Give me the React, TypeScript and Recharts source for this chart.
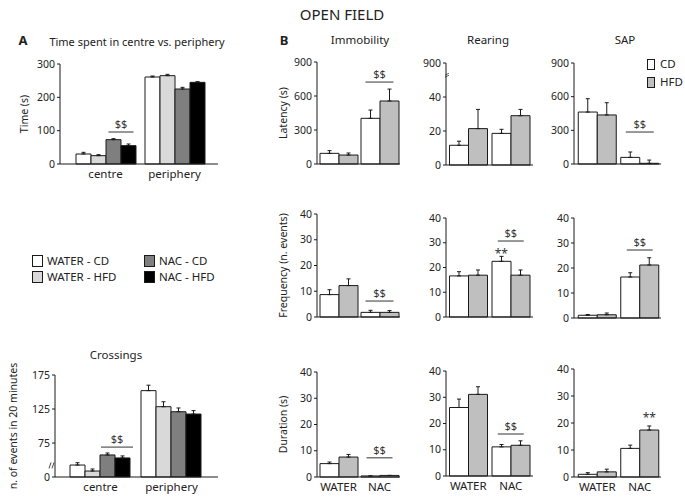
import React from "react";
import { BarChart, Bar, XAxis, YAxis, ErrorBar, ReferenceDot, ReferenceLine, ReferenceArea } from "recharts";

const FONT = '"Noto Sans", "Open Sans", sans-serif';
const INK = "#1a1a1a";

// ---- panel A: time spent in centre vs periphery ----
const zones = ["centre", "periphery"];
const timeWaterCD = [30, 261];
const timeWaterCDErr = [5, 3];
const timeWaterHFD = [25, 265];
const timeWaterHFDErr = [3, 4];
const timeNacCD = [73, 225];
const timeNacCDErr = [3, 5];
const timeNacHFD = [55, 245];
const timeNacHFDErr = [5, 2];

// ---- panel A: crossings (axis is broken, bottom tick shown as 0) ----
const crossWaterCD = [42.6, 152];
const crossWaterCDErr = [3.4, 8];
const crossWaterHFD = [33.8, 128.4];
const crossWaterHFDErr = [3, 7.3];
const crossNacCD = [57.4, 121];
const crossNacCDErr = [2.9, 5.5];
const crossNacHFD = [53, 117.6];
const crossNacHFDErr = [3, 5];

// ---- panel B ----
const treatments = ["WATER", "NAC"];

const immLatCD = [94, 403];
const immLatCDErr = [24, 73];
const immLatHFD = [79, 556];
const immLatHFDErr = [18, 105];
const rearLatCD = [11.6, 18.6];
const rearLatCDErr = [2.4, 2.4];
const rearLatHFD = [21.4, 29];
const rearLatHFDErr = [11.3, 3.7];
const sapLatCD = [463, 59];
const sapLatCDErr = [119, 48];
const sapLatHFD = [437, 6];
const sapLatHFDErr = [109, 29];

const immFreqCD = [8.7, 1.8];
const immFreqCDErr = [1.9, 0.8];
const immFreqHFD = [12.2, 1.8];
const immFreqHFDErr = [2.6, 0.7];
const rearFreqCD = [16.6, 22.5];
const rearFreqCDErr = [1.7, 2];
const rearFreqHFD = [16.9, 16.9];
const rearFreqHFDErr = [2.1, 2.1];
const sapFreqCD = [1.1, 16.4];
const sapFreqCDErr = [0.3, 1.7];
const sapFreqHFD = [1.3, 21.2];
const sapFreqHFDErr = [0.7, 2.9];

const immDurCD = [5.1, 0.4];
const immDurCDErr = [0.6, 0];
const immDurHFD = [7.6, 0.6];
const immDurHFDErr = [1.0, 0];
const rearDurCD = [26.1, 11.1];
const rearDurCDErr = [3.2, 0.9];
const rearDurHFD = [31.1, 11.7];
const rearDurHFDErr = [2.9, 1.7];
const sapDurCD = [1.0, 10.6];
const sapDurCDErr = [0.6, 1.2];
const sapDurHFD = [1.9, 17.4];
const sapDurHFDErr = [1.0, 1.5];

const latencyTicks = [0, 300, 600, 900];
const rearLatTicks = [0, 20, 40, 60];
const countTicks = [0, 10, 20, 30, 40];
const timeTicks = [0, 100, 200, 300];
const crossTicks = [25, 75, 125, 175];

const C_WHITE = "#ffffff";
const C_LIGHT = "#d9d9d9";
const C_DARK = "#7f7f7f";
const C_BLACK = "#000000";
const C_HFD = "#bfbfbf";

type Series = { values: number[]; errors: number[]; fill: string };
type Mark = { cat: string; value: number; text: string; line?: number; dx?: number };

function cdHfd(cd: number[], cdErr: number[], hfd: number[], hfdErr: number[]): Series[] {
  return [
    { values: cd, errors: cdErr, fill: C_WHITE },
    { values: hfd, errors: hfdErr, fill: C_HFD },
  ];
}

function markShape(m: Mark) {
  return (props: any) => {
    const cx = props.cx + (m.dx ?? 0);
    const cy = props.cy;
    if (m.line) {
      return (
        <g>
          <line x1={cx - m.line / 2} x2={cx + m.line / 2} y1={cy} y2={cy} stroke="#333" strokeWidth={1} />
          <text x={cx} y={cy - 4} textAnchor="middle" fontSize={11} fill="#333" fontFamily={FONT}>
            {m.text}
          </text>
        </g>
      );
    }
    return (
      <text x={cx} y={cy + 6} textAnchor="middle" fontSize={12} fill="#333" fontFamily={FONT}>
        {m.text}
      </text>
    );
  };
}

interface PanelProps {
  x: number;
  y: number;
  w: number;
  h: number;
  cats: string[];
  series: Series[];
  domain: [number, number];
  ticks: number[];
  fmt?: (v: number) => string;
  yLabel?: string;
  labelX?: number;
  showX?: boolean;
  padL: number;
  padR: number;
  gap: number;
  marks?: Mark[];
  yAxisW?: number;
  breakAt?: number;
  gapArea?: [number, number];
}

function Panel(p: PanelProps) {
  const yW = p.yAxisW ?? 45;
  const mTop = 16;
  const mRight = 4;
  const mBottom = 8;
  const xH = p.showX ? 24 : 1;
  const rows = p.cats.map((c, i) => {
    const r: Record<string, unknown> = { cat: c };
    p.series.forEach((s, j) => {
      r[`v${j}`] = s.values[i];
      r[`e${j}`] = [0, s.errors[i]];
    });
    return r;
  });
  const left = p.x - yW;
  return (
    <div style={{ position: "absolute", left, top: p.y - mTop }}>
      <BarChart
        width={yW + p.w + mRight}
        height={mTop + p.h + xH + mBottom}
        data={rows}
        margin={{ top: mTop, right: mRight, left: 0, bottom: mBottom }}
        barGap={0}
        barCategoryGap={p.gap}
      >
        <XAxis
          dataKey="cat"
          axisLine={{ stroke: INK }}
          tickLine={false}
          tick={p.showX ? { fontSize: 11.5, fill: "#222", fontFamily: FONT } : false}
          height={xH}
          padding={{ left: p.padL, right: p.padR }}
          interval={0}
          tickMargin={0}
        />
        <YAxis
          type="number"
          domain={p.domain}
          ticks={p.ticks}
          interval={0}
          tickFormatter={p.fmt}
          width={yW}
          tickSize={3}
          tickMargin={2}
          axisLine={{ stroke: INK }}
          tickLine={{ stroke: INK }}
          tick={{ fontSize: 10.5, fill: "#222", fontFamily: FONT }}
          label={
            p.yLabel
              ? {
                  value: p.yLabel,
                  angle: -90,
                  position: "insideLeft",
                  offset: (p.labelX ?? 0) - left,
                  textAnchor: "middle",
                  style: { fontSize: 10.5, fill: "#222", fontFamily: FONT },
                }
              : undefined
          }
        />
        {p.gapArea && (
          <ReferenceArea
            y1={p.gapArea[0]}
            y2={p.gapArea[1]}
            ifOverflow="visible"
            shape={(a: any) => {
              const mid = a.y + a.height / 2;
              return (
                <g>
                  <line x1={a.x} x2={a.x} y1={a.y} y2={a.y + a.height} stroke="#fff" strokeWidth={3} />
                  <line x1={a.x - 2} y1={mid + 1} x2={a.x + 2} y2={mid - 1} stroke="#444" strokeWidth={0.8} />
                  <line x1={a.x - 2} y1={mid + 3} x2={a.x + 2} y2={mid + 1} stroke="#444" strokeWidth={0.8} />
                </g>
              );
            }}
          />
        )}
        {p.breakAt !== undefined && (
          <ReferenceLine
            y={p.breakAt}
            shape={(l: any) => (
              <g>
                <line x1={l.x1 - 6} y1={l.y1 + 3} x2={l.x1 - 4} y2={l.y1 - 3} stroke="#444" strokeWidth={1} />
                <line x1={l.x1 - 3} y1={l.y1 + 3} x2={l.x1 - 1} y2={l.y1 - 3} stroke="#444" strokeWidth={1} />
              </g>
            )}
          />
        )}
        {p.series.map((s, j) => (
          <Bar
            key={j}
            dataKey={`v${j}`}
            fill={s.fill}
            stroke={INK}
            strokeWidth={1}
            isAnimationActive={false}
          >
            <ErrorBar dataKey={`e${j}`} width={2} stroke={INK} strokeWidth={1} direction="y" />
          </Bar>
        ))}
        {(p.marks ?? []).map((m, k) => (
          <ReferenceDot key={k} x={m.cat} y={m.value} r={0} ifOverflow="visible" shape={markShape(m)} />
        ))}
      </BarChart>
    </div>
  );
}

function T(props: { x: number; y: number; size: number; children: React.ReactNode; weight?: number; start?: boolean }) {
  return (
    <div
      style={{
        position: "absolute",
        left: props.x,
        top: props.y,
        transform: props.start ? "translate(0,-50%)" : "translate(-50%,-50%)",
        fontSize: props.size,
        fontWeight: props.weight,
        whiteSpace: "nowrap",
        lineHeight: 1,
        color: "#222",
      }}
    >
      {props.children}
    </div>
  );
}

function Swatch(props: { x: number; y: number; w: number; h: number; fill: string }) {
  return (
    <div
      style={{
        position: "absolute",
        left: props.x,
        top: props.y,
        width: props.w,
        height: props.h,
        background: props.fill,
        border: `1px solid ${INK}`,
        boxSizing: "border-box",
      }}
    />
  );
}

const IMM = { x: 317, w: 83, padL: 1, padR: 0, gap: 2 };
const REAR = { x: 446, w: 87, padL: 1, padR: 1, gap: 2.5 };
const SAP = { x: 574, w: 87, padL: 2, padR: 0, gap: 2.25 };
const LABEL_B = 283;

export default function App() {
  const groupA = (a: number[], ae: number[], b: number[], be: number[], c: number[], ce: number[], d: number[], de: number[]): Series[] => [
    { values: a, errors: ae, fill: C_WHITE },
    { values: b, errors: be, fill: C_LIGHT },
    { values: c, errors: ce, fill: C_DARK },
    { values: d, errors: de, fill: C_BLACK },
  ];
  return (
    <div
      style={{
        position: "absolute",
        left: 0,
        top: 0,
        width: 685,
        height: 502,
        background: "#fff",
        fontFamily: FONT,
        overflow: "hidden",
      }}
    >
      <T x={342} y={14} size={15}>OPEN FIELD</T>
      <T x={23} y={40} size={13} weight={700}>A</T>
      <T x={137} y={41} size={11}>Time spent in centre vs. periphery</T>
      <T x={284} y={40} size={13} weight={700}>B</T>
      <T x={360} y={40} size={11.5}>Immobility</T>
      <T x={488} y={40} size={11.5}>Rearing</T>
      <T x={625} y={40} size={11.5}>SAP</T>
      <T x={116} y={355} size={11.5}>Crossings</T>

      <Panel
        x={60} y={64} w={158} h={100}
        cats={zones}
        series={groupA(timeWaterCD, timeWaterCDErr, timeWaterHFD, timeWaterHFDErr, timeNacCD, timeNacCDErr, timeNacHFD, timeNacHFDErr)}
        domain={[0, 300]} ticks={timeTicks}
        yLabel="Time (s)" labelX={24} yAxisW={52}
        showX padL={11} padR={9} gap={5}
        marks={[{ cat: "centre", value: 96, text: "$$", line: 25, dx: 15.5 }]}
      />

      <Panel
        x={55} y={375} w={163} h={102}
        cats={zones}
        series={groupA(crossWaterCD, crossWaterCDErr, crossWaterHFD, crossWaterHFDErr, crossNacCD, crossNacCDErr, crossNacHFD, crossNacHFDErr)}
        domain={[25, 175]} ticks={crossTicks}
        fmt={(v) => (v === 25 ? "0" : String(v))}
        yLabel="n. of events in 20 minutes" labelX={13} yAxisW={50}
        showX padL={10} padR={11} gap={5}
        breakAt={42}
        marks={[{ cat: "centre", value: 69, text: "$$", line: 32, dx: 16.5 }]}
      />

      {/* legend panel A */}
      <Swatch x={32} y={255} w={11} h={12} fill={C_WHITE} />
      <T x={47} y={261} size={11.5} start>WATER - CD</T>
      <Swatch x={32} y={271} w={11} h={12} fill={C_LIGHT} />
      <T x={47} y={277} size={11.5} start>WATER - HFD</T>
      <Swatch x={144} y={255} w={11} h={12} fill={C_DARK} />
      <T x={159} y={261} size={11.5} start>NAC - CD</T>
      <Swatch x={144} y={271} w={11} h={12} fill={C_BLACK} />
      <T x={159} y={277} size={11.5} start>NAC - HFD</T>

      {/* row 1: latency */}
      <Panel {...IMM} y={62} h={102} cats={treatments}
        series={cdHfd(immLatCD, immLatCDErr, immLatHFD, immLatHFDErr)}
        domain={[0, 900]} ticks={latencyTicks} yLabel="Latency (s)" labelX={LABEL_B}
        marks={[{ cat: "NAC", value: 723, text: "$$", line: 28 }]}
      />
      <Panel {...REAR} y={63} h={102} cats={treatments}
        series={cdHfd(rearLatCD, rearLatCDErr, rearLatHFD, rearLatHFDErr)}
        domain={[0, 60]} ticks={rearLatTicks} fmt={(v) => (v === 60 ? "900" : String(v))}
        gapArea={[48.2, 58.6]}
      />
      <Panel {...SAP} y={63} h={101} cats={treatments}
        series={cdHfd(sapLatCD, sapLatCDErr, sapLatHFD, sapLatHFDErr)}
        domain={[0, 900]} ticks={latencyTicks}
        marks={[{ cat: "NAC", value: 285, text: "$$", line: 28 }]}
      />
      <Swatch x={647} y={59} w={8} h={11} fill={C_WHITE} />
      <T x={660} y={64} size={11.5} start>CD</T>
      <Swatch x={647} y={77} w={8} h={11} fill={C_HFD} />
      <T x={660} y={82} size={11.5} start>HFD</T>

      {/* row 2: frequency */}
      <Panel {...IMM} y={214} h={103} cats={treatments}
        series={cdHfd(immFreqCD, immFreqCDErr, immFreqHFD, immFreqHFDErr)}
        domain={[0, 40]} ticks={countTicks} yLabel="Frequency (n. events)" labelX={LABEL_B}
        marks={[{ cat: "NAC", value: 6.2, text: "$$", line: 28 }]}
      />
      <Panel {...REAR} y={218} h={99} cats={treatments}
        series={cdHfd(rearFreqCD, rearFreqCDErr, rearFreqHFD, rearFreqHFDErr)}
        domain={[0, 40]} ticks={countTicks}
        marks={[
          { cat: "NAC", value: 30.7, text: "$$", line: 26 },
          { cat: "NAC", value: 26.3, text: "**", dx: -9.5 },
        ]}
      />
      <Panel {...SAP} y={218} h={100} cats={treatments}
        series={cdHfd(sapFreqCD, sapFreqCDErr, sapFreqHFD, sapFreqHFDErr)}
        domain={[0, 40]} ticks={countTicks}
        marks={[{ cat: "NAC", value: 27.2, text: "$$", line: 26 }]}
      />

      {/* row 3: duration */}
      <Panel {...IMM} y={372} h={105} cats={treatments}
        series={cdHfd(immDurCD, immDurCDErr, immDurHFD, immDurHFDErr)}
        domain={[0, 40]} ticks={countTicks} yLabel="Duration (s)" labelX={LABEL_B} showX
        marks={[{ cat: "NAC", value: 7.3, text: "$$", line: 26 }]}
      />
      <Panel {...REAR} y={371} h={105} cats={treatments}
        series={cdHfd(rearDurCD, rearDurCDErr, rearDurHFD, rearDurHFDErr)}
        domain={[0, 40]} ticks={countTicks} showX
        marks={[{ cat: "NAC", value: 16, text: "$$", line: 26 }]}
      />
      <Panel {...SAP} y={369} h={108} cats={treatments}
        series={cdHfd(sapDurCD, sapDurCDErr, sapDurHFD, sapDurHFDErr)}
        domain={[0, 40]} ticks={countTicks} showX
        marks={[{ cat: "NAC", value: 22.6, text: "**", dx: 9.5 }]}
      />
    </div>
  );
}
